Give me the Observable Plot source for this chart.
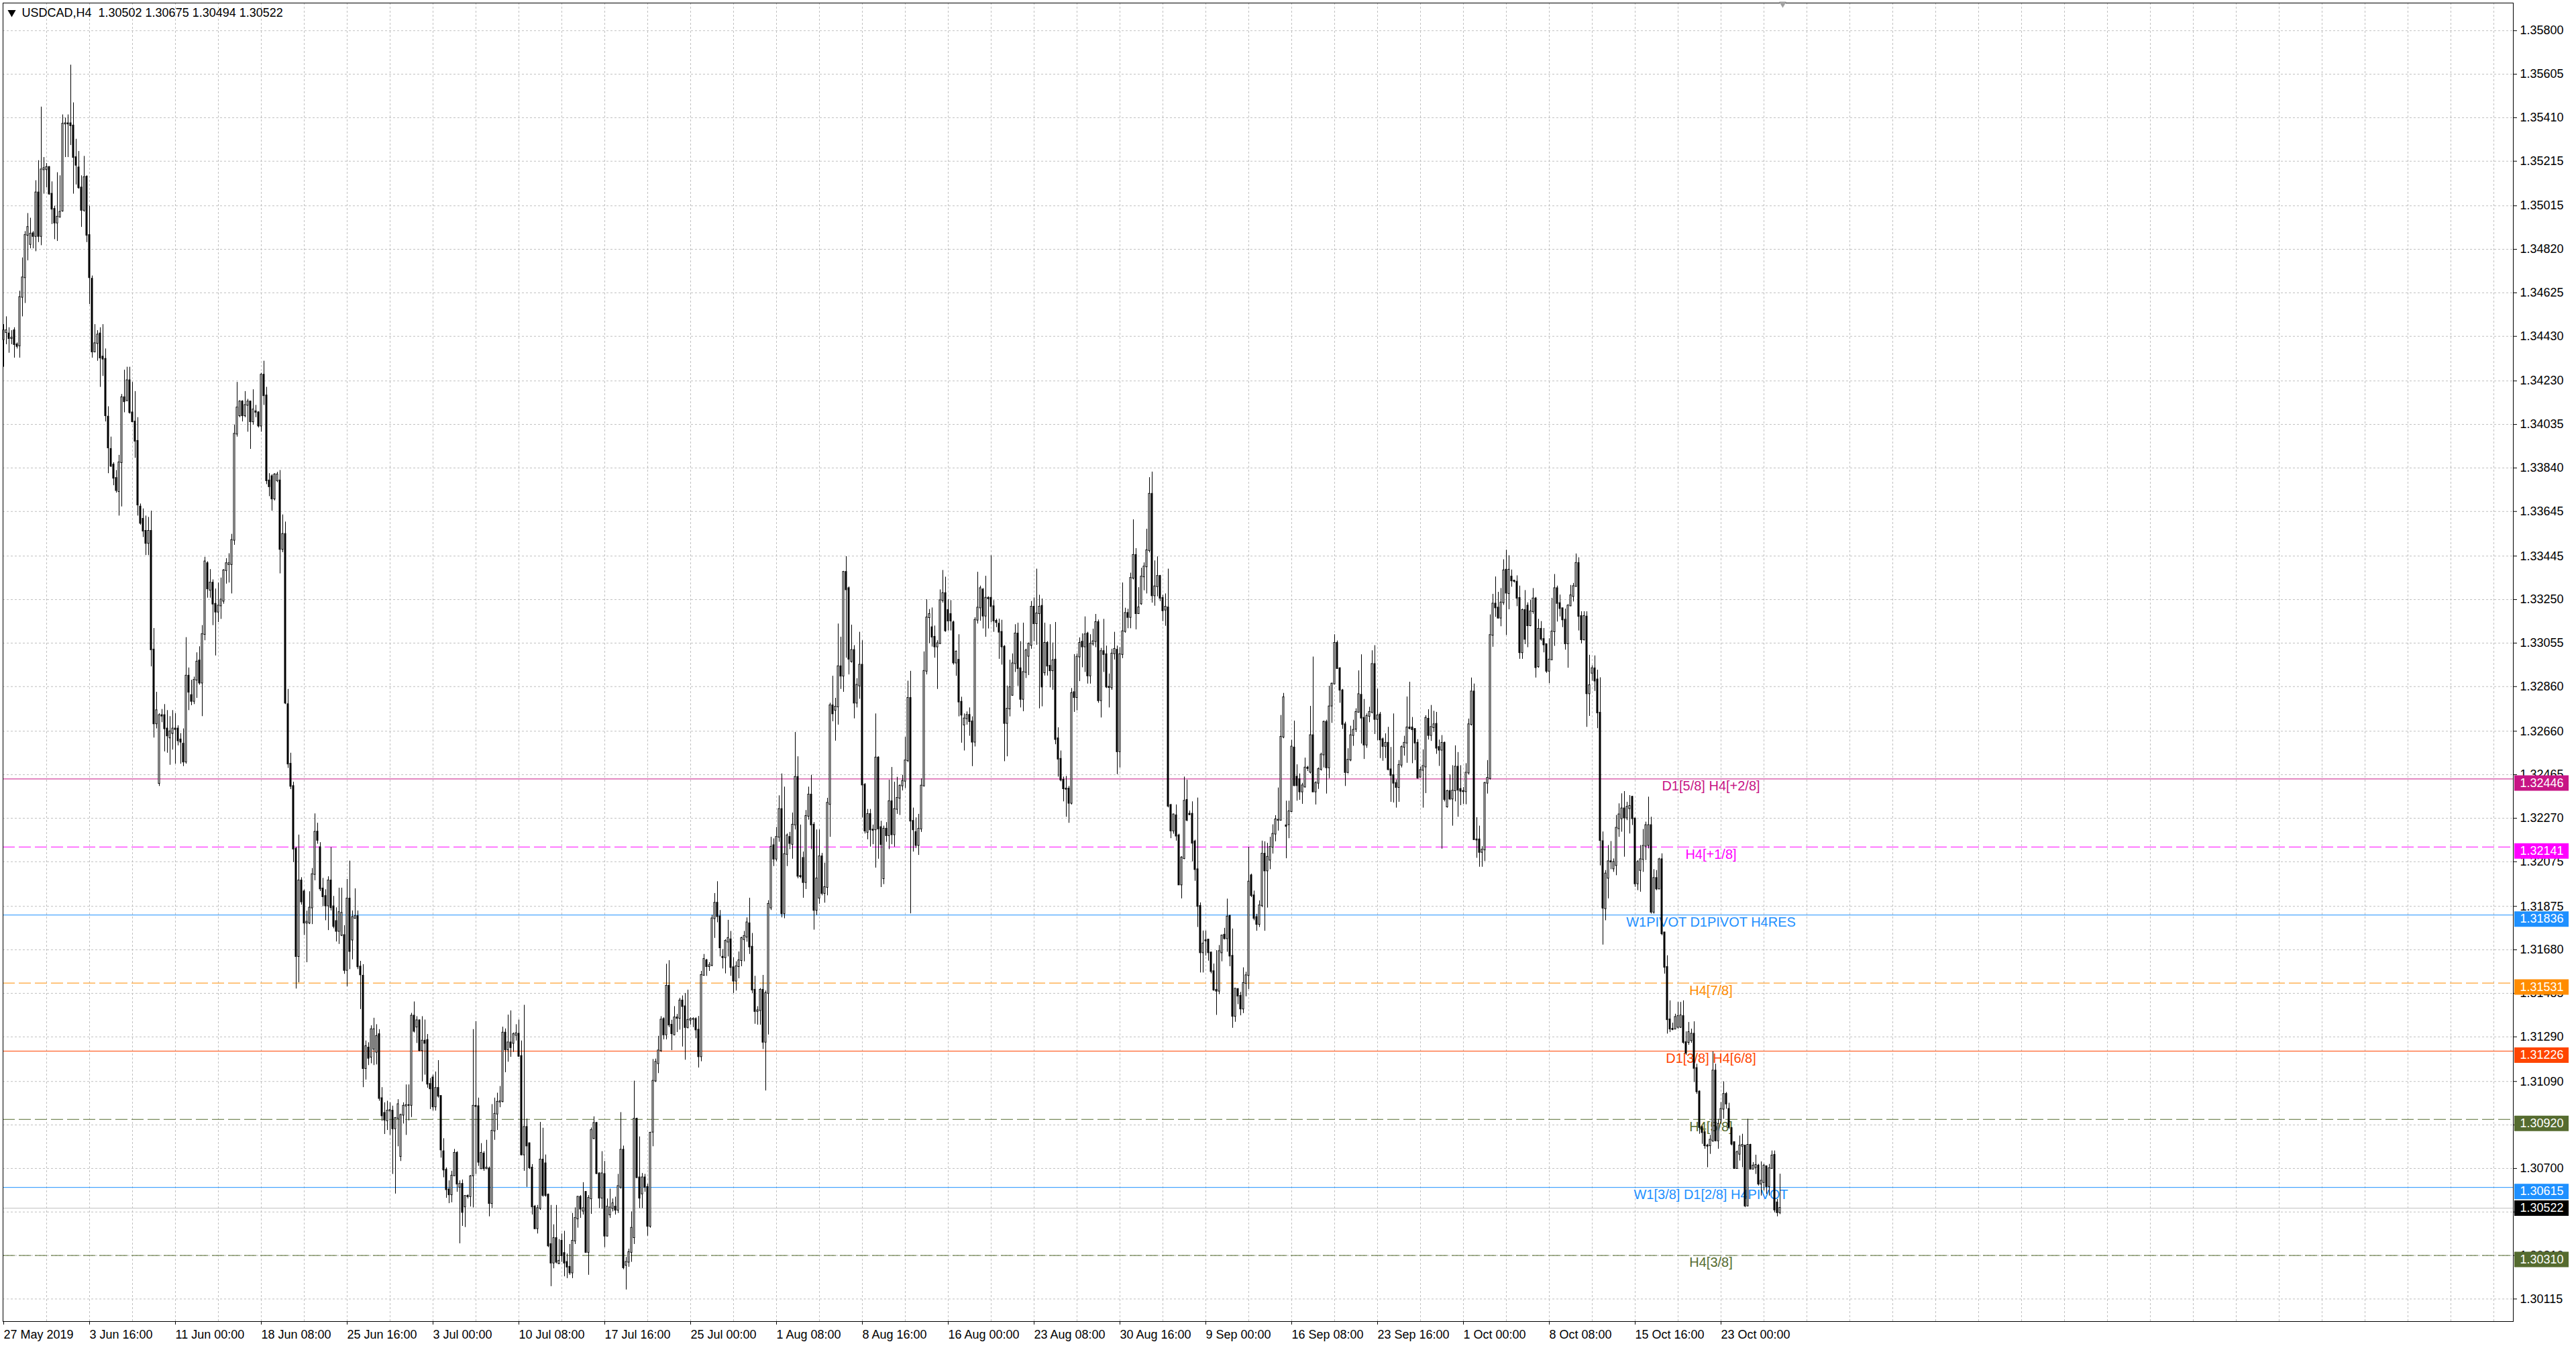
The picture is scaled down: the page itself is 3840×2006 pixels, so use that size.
<!DOCTYPE html>
<html>
<head>
<meta charset="utf-8">
<script src="https://cdn.jsdelivr.net/npm/d3@7"></script>
<script src="https://cdn.jsdelivr.net/npm/@observablehq/plot@0.6"></script>
<style>
  html, body { margin: 0; padding: 0; background: #fff; }
  #chart svg { display: block; }
</style>
</head>
<body>
<div id="chart"></div>
<script>
// USDCAD H4 candles, prices in points (price x 100000), one value per bar from 27 May 2019
const opens = [
134415,134447,134442,134420,134456,134393,134387,134605,134693,134883,
134842,134891,134878,135074,134878,135177,135177,135188,135068,135000,
134938,134965,134992,135382,135384,135384,135374,135232,135186,135096,
134995,135145,134883,134687,134360,134398,134442,134338,134328,134069,
133924,133854,133794,133734,133864,134156,134142,134232,134088,134047,
133960,133666,133611,133557,133502,133557,133025,132693,132426,132731,
132731,132671,132630,132650,132671,132671,132622,132603,132522,132908,
132821,132794,132889,132976,132876,133094,133412,133292,133325,133230,
133194,133222,133243,133380,133407,133407,133516,133992,134074,134137,
134074,134121,134137,134047,134093,134088,134028,134257,134164,133783,
133802,133701,133783,133783,133475,133543,132780,132513,132413,132132,
131650,131990,131941,131800,131800,131868,132018,132209,132139,131954,
131920,131877,131990,131874,131808,131763,131745,131745,131588,131909,
131724,131821,131830,131604,131563,131148,131241,131199,131235,131221,
131301,131014,130948,130914,130958,130958,130878,130925,130754,130939,
130980,130983,130983,131384,131334,131363,131228,131272,131275,131078,
131107,130976,131060,131024,130776,130693,130605,130582,130667,130769,
130616,130630,130528,130576,130574,130667,130980,130978,130699,130766,
130699,130699,130543,130868,130944,130998,131000,131308,131232,131264,
131261,131297,131303,131203,130761,130885,130812,130703,130528,130430,
130521,130739,130722,130582,130360,130276,130387,130273,130375,130320,
130280,130258,130232,130375,130474,130572,130509,130594,130324,130564,
130834,130903,130677,130567,130674,130397,130492,130521,130528,130513,
130616,130783,130266,130280,130324,130390,130922,130659,130586,130659,
130616,130441,130863,131092,131170,131228,131369,131299,131518,131343,
131299,131376,131373,131452,131426,131332,131365,131369,131369,131321,
131201,131566,131632,131605,131610,131820,131890,131829,131648,131645,
131715,131726,131601,131540,131605,131632,131726,131737,131798,131693,
131500,131404,131408,131500,131266,131485,131868,132148,132087,132185,
132310,131842,132108,132185,132153,132240,132454,132010,132091,131982,
132279,132375,132240,131857,131912,132098,131933,131960,132332,132775,
132754,132769,132950,132907,133373,133300,132972,133023,132786,132863,
132957,132419,132207,132288,132218,132218,132541,132229,131999,132222,
132192,132345,132196,132310,132360,132415,132436,132528,132808,132257,
132207,132148,132222,132415,132929,133169,133125,133082,133038,133053,
133246,133278,133202,133184,133147,132966,132979,132791,132688,132716,
132732,132703,132611,133158,133213,133294,133176,133257,133257,133219,
133154,133141,133104,133038,132695,132760,132821,132963,133097,132941,
132803,132924,132996,133045,133217,133142,133187,133221,132922,133055,
132952,132931,132980,132627,132535,132441,132402,132402,132337,132834,
132811,132993,133060,133038,133097,132908,133051,133062,133148,132797,
133018,133004,132858,132855,133007,133024,132568,133004,133107,133189,
133170,133346,133449,133187,133231,133352,133397,133470,133723,133267,
133308,133355,133256,133203,133214,132328,132213,132282,132192,131971,
132089,132351,132289,132289,132165,132040,131876,131667,131722,131725,
131667,131583,131500,131495,131667,131747,131730,131831,131652,131382,
131503,131473,131415,131530,131565,132013,131923,131826,131794,131878,
132110,132034,132082,132140,132199,132262,132261,132634,132237,132241,
132300,132586,132455,132444,132388,132410,132496,132476,132641,132388,
132427,132489,132554,132701,132496,132773,132872,133055,132941,132842,
132690,132475,132531,132641,132669,132745,132822,132719,132598,132727,
132745,132960,132713,132734,132623,132592,132607,132488,132462,132427,
132408,132508,132588,132607,132676,132676,132669,132607,132454,132485,
132500,132715,132641,132676,132692,132588,132575,132607,132321,132391,
132356,132393,132500,132400,132391,132389,132473,132690,132837,132174,
132174,132117,132128,132427,132448,133090,133231,133213,133167,133236,
133383,133277,133352,133334,133329,133256,133012,133202,133222,133133,
133196,133254,132949,133118,133072,133049,132929,132980,133106,133300,
133233,133210,133159,133052,133222,133264,133309,133413,133175,133070,
133173,132828,132920,132941,132891,132742,132166,131864,132001,132076,
132043,132058,132223,132268,132313,132271,132313,132365,132268,131976,
132036,132085,132145,132148,132238,131849,132001,131953,132085,131757,
131602,131367,131325,131325,131333,131333,131382,131265,131265,131273,
131303,131149,131044,130884,130861,130802,130802,130824,131138,130824,
130918,130966,131033,130966,130880,130817,130700,130764,130800,130802,
130532,130805,130697,130704,130712,130630,130637,130709,130619,130700,
130760,130547,130502
];
const highs = [
134483,134518,134469,134456,134469,134401,134633,134782,134900,134981,
134960,134900,135128,135218,135458,135232,135205,135191,135123,135014,
135164,135150,135423,135409,135423,135646,135477,135314,135259,135150,
135237,135150,135014,134701,134483,134456,134469,134483,134374,134115,
133979,133864,133829,133897,134170,134279,134292,134292,134224,134183,
134066,133679,133657,133625,133619,133647,133121,132835,132739,132758,
132780,132753,132726,132753,132739,132685,132650,132671,133080,132944,
132889,132903,133012,133039,133134,133440,133420,133385,133339,133298,
133325,133347,133385,133434,133456,133543,134033,134224,134142,134142,
134183,134148,134140,134191,134121,134093,134265,134319,134202,133815,
133810,133815,133821,133829,133630,133598,132848,132562,132432,132140,
132195,132004,131949,131854,131941,132045,132290,132248,132161,132001,
131950,132008,132139,131920,131869,131957,131957,131789,131996,132078,
131855,131954,131855,131629,131614,131272,131264,131340,131374,131345,
131323,131063,130995,131002,130995,130980,130929,131009,130944,130995,
131075,131075,131396,131447,131381,131366,131381,131366,131301,131104,
131119,131133,131184,131026,130834,130703,130645,130688,130786,130776,
130645,130649,130579,130582,130669,131323,131359,131016,130812,130776,
130827,130707,130987,131016,131038,131068,131334,131326,131388,131407,
131308,131345,131366,131272,131432,130922,130815,130718,130535,130535,
130907,130881,130761,130586,130535,130448,130535,130382,130407,130419,
130317,130360,130499,130524,130575,130579,130637,130597,130579,130882,
130932,130907,130681,130776,130732,130564,130608,130564,130572,130674,
130951,130801,130302,130339,130506,131092,130926,130842,130678,130674,
130630,130863,131189,131191,131293,131381,131376,131616,131632,131365,
131426,131391,131463,131474,131485,131500,131376,131376,131376,131382,
131584,131660,131638,131623,131835,131933,131986,131857,131682,131726,
131813,131763,131645,131627,131671,131737,131763,131824,131912,131754,
131562,131426,131507,131566,131496,131901,132185,132178,132229,132371,
132469,132410,132200,132207,132294,132655,132546,132240,132119,132305,
132410,132463,132251,132218,132218,132113,132069,132360,132786,132907,
132808,133141,133082,133377,133443,133307,133136,133044,132896,133104,
133066,132426,132310,132310,132240,132738,132546,132257,132235,132251,
132441,132498,132432,132454,132419,132463,132633,132885,132929,132316,
132272,132288,132447,133016,133250,133206,133213,133132,133066,133294,
133381,133351,133250,133246,133154,133020,133093,132813,132738,132747,
132765,132725,133169,133373,133311,133300,133355,133263,133447,133246,
133163,133163,133158,133044,132863,132979,133007,133138,133145,133062,
133145,133028,133056,133242,133258,133387,133270,133253,133145,133062,
133138,133056,133148,132676,132572,132455,132458,132413,132852,133004,
133007,133079,133097,133173,133104,133093,133118,133184,133159,133032,
133162,133042,132917,133028,133104,133042,133035,133325,133212,133207,
133369,133608,133479,133304,133391,133415,133566,133797,133822,133424,
133442,133359,133270,133276,133387,132333,132289,132330,132199,132098,
132455,132441,132303,132344,132172,132361,131891,131765,131765,131728,
131670,131617,131677,131700,131747,131777,131908,131836,131774,131507,
131507,131490,131600,131580,132140,132020,131944,131840,131900,132168,
132165,132158,132185,132241,132282,132406,132731,132830,132347,132347,
132620,132706,132510,132469,132427,132540,132503,132772,132993,132434,
132496,132562,132706,132710,132862,132876,133093,133065,132945,132848,
132701,132582,132683,132710,132761,132931,133003,132803,132738,132768,
133021,133044,132849,132745,132630,132649,132678,132588,132738,132442,
132529,132595,132638,132814,132880,132722,132672,132623,132500,132577,
132730,132757,132776,132750,132745,132621,132641,132612,132396,132465,
132506,132595,132565,132506,132408,132515,132715,132899,132872,132273,
132235,132143,132431,132529,133182,133274,133352,133283,133300,133429,
133472,133447,133383,133337,133357,133311,133208,133291,133236,133248,
133300,133260,133162,133152,133121,133052,133075,133256,133363,133311,
133271,133212,133208,133228,133314,133323,133455,133438,133196,133196,
133196,133001,132954,132998,132934,132900,132209,132036,132148,132166,
132088,132283,132335,132380,132390,132342,132372,132369,132270,132081,
132148,132220,132253,132365,132275,132040,132036,132091,132111,131759,
131654,131452,131352,131392,131445,131445,131452,131313,131355,131325,
131358,131168,131048,130891,130869,130809,130849,131223,131168,130921,
130996,131089,131041,130993,130884,130820,130779,130846,130854,130805,
130921,130809,130727,130760,130719,130730,130719,130712,130719,130779,
130779,130562,130675
];
const lows = [
134292,134393,134355,134393,134333,134374,134333,134518,134578,134769,
134823,134823,134810,134851,134837,135068,135096,135063,134932,134864,
134856,134960,134987,135232,135232,135286,135068,135109,135090,134919,
134987,134851,134573,134333,134360,134319,134202,134251,134047,133815,
133843,133761,133728,133625,133666,134088,134137,134082,134047,133884,
133625,133584,133529,133448,133448,132949,132630,132671,132413,132699,
132568,132562,132508,132576,132513,132595,132513,132502,132513,132753,
132775,132780,132808,132867,132726,133066,133257,133257,133134,132998,
133148,133162,133230,133320,133325,133276,133494,133979,134066,134047,
134066,134001,133924,134033,134066,134020,134001,134121,133766,133712,
133647,133693,133775,133366,133461,132780,132494,132399,132072,131505,
131533,131881,131745,131623,131794,131794,131990,132154,131942,131874,
131811,131767,131855,131775,131716,131705,131740,131571,131515,131592,
131636,131818,131592,131413,131063,131097,131162,131170,131162,131165,
131002,130912,130853,130871,130849,130674,130586,130798,130732,130900,
130849,130914,130929,131308,131261,131224,131089,131119,131060,130965,
130958,130958,131016,130747,130659,130567,130543,130547,130665,130594,
130363,130441,130436,130564,130528,130524,130674,130710,130696,130688,
130696,130484,130521,130827,130871,130973,130995,131130,131177,131199,
131221,131272,131199,130757,130688,130616,130696,130492,130426,130407,
130513,130572,130572,130346,130171,130251,130273,130270,130280,130215,
130207,130222,130207,130360,130433,130477,130492,130320,130222,130495,
130830,130674,130521,130518,130346,130394,130477,130506,130492,130499,
130608,130247,130156,130258,130280,130360,130655,130521,130521,130594,
130397,130433,130798,131086,131126,131221,131277,131277,131332,131229,
131295,131310,131321,131245,131186,131326,131343,131332,131282,131151,
131179,131562,131562,131584,131605,131732,131802,131649,131595,131573,
131649,131562,131485,131496,131551,131605,131627,131715,131660,131485,
131347,131343,131343,131234,131048,131299,131857,132054,132076,132163,
131824,131820,132054,132130,132087,132218,131999,131999,131912,131951,
132262,132130,131769,131835,131885,131923,131890,131923,132185,132703,
132616,132688,132848,132835,132988,132913,132966,132716,132765,132804,
132272,132200,132174,132141,132152,132047,132087,131960,131973,132163,
132130,132152,132141,132288,132283,132393,132404,132520,131842,132119,
132135,132104,132207,132410,132913,133053,133038,132988,132848,133049,
133235,133104,133110,133110,132957,132907,132725,132607,132572,132688,
132638,132502,132590,133141,133154,133119,133082,133119,133147,133104,
133125,132983,132957,132524,132546,132725,132817,132924,132862,132765,
132748,132897,132910,133028,133062,133046,132761,132770,132908,132908,
132855,132844,132600,132455,132434,132344,132275,132248,132330,132745,
132752,132883,132945,132924,132872,132872,133042,133035,132786,132720,
132924,132852,132765,132844,132980,132466,132496,132986,133100,133120,
133120,133339,133115,133184,133225,133290,133276,133460,133235,133221,
133263,133242,133152,133131,132317,132179,132199,132168,131969,131909,
132085,132255,132282,132075,131988,131781,131577,131577,131653,131630,
131573,131495,131387,131480,131627,131725,131670,131605,131329,131356,
131435,131385,131395,131470,131503,131915,131811,131764,131781,131870,
131764,131868,132040,132110,132165,132213,132258,132627,132089,132179,
132296,132413,132347,132351,132333,132406,132480,132469,132386,132330,
132400,132482,132496,132379,132448,132696,132869,132938,132786,132669,
132413,132469,132524,132593,132655,132742,132603,132534,132584,132699,
132738,132646,132618,132538,132526,132538,132483,132342,132339,132316,
132342,132496,132549,132517,132667,132515,132529,132446,132450,132316,
132381,132621,132615,132655,132557,132503,132132,132344,132316,132350,
132235,132344,132275,132327,132333,132331,132465,132684,132172,132091,
132051,132051,132077,132379,132442,133037,133171,133164,133129,133225,
133090,133205,133306,133325,133219,132983,132983,133049,133035,133129,
133185,132899,132943,133064,133012,132920,132874,132978,133041,133150,
133173,133125,133024,132943,133219,133240,133306,133110,133052,133065,
132678,132727,132885,132839,132672,132057,131702,131811,131909,132040,
132028,132013,132185,132208,132096,132260,132200,132238,131961,131946,
131939,132028,132081,132133,131841,131841,131946,131950,131744,131572,
131303,131310,131318,131322,131325,131328,131258,131208,131253,131262,
131086,131033,130854,130809,130787,130704,130764,130817,130820,130787,
130899,130921,130966,130876,130802,130697,130697,130734,130704,130525,
130529,130694,130694,130674,130622,130577,130600,130585,130577,130697,
130502,130484,130494
];
const closes = [
134456,134456,134420,134423,134393,134385,134605,134693,134883,134919,
134889,134878,135074,134878,135177,135183,135188,135068,135000,134938,
134965,134987,135382,135384,135382,135374,135232,135197,135096,134995,
135142,134883,134693,134360,134398,134437,134333,134328,134074,133930,
133848,133794,133739,133864,134156,134137,134232,134088,134047,133960,
133674,133592,133557,133502,133557,133025,132693,132753,132731,132728,
132671,132639,132658,132671,132668,132617,132611,132522,132908,132835,
132794,132889,132971,132876,133094,133420,133298,133325,133230,133194,
133222,133249,133380,133412,133412,133516,133992,134110,134137,134074,
134121,134137,134047,134101,134090,134028,134257,134164,133783,133756,
133701,133810,133810,133475,133543,132786,132513,132413,132132,131650,
131990,131895,131800,131805,131868,132018,132208,132171,131953,131918,
131877,131990,131869,131785,131763,131848,131845,131588,131909,131673,
131826,131830,131604,131568,131148,131247,131194,131323,131323,131293,
131014,130936,130917,130958,130961,130878,130925,130987,130939,130980,
130983,130983,131384,131315,131363,131228,131272,131261,131078,131057,
130976,131060,131024,130783,130693,130605,130582,130667,130769,130630,
130630,130503,130576,130574,130664,130980,130978,130728,130769,130699,
130703,130543,130868,130944,130998,131000,131308,131232,131264,131242,
131301,131305,131203,130761,130885,130801,130703,130528,130430,130521,
130739,130579,130579,130353,130276,130387,130280,130285,130309,130276,
130258,130232,130375,130477,130572,130518,130521,130324,130567,130871,
130903,130677,130567,130677,130397,130528,130524,130543,130513,130620,
130783,130255,130280,130324,130433,130922,130659,130567,130659,130616,
130441,130859,131092,131177,131228,131366,131299,131518,131343,131304,
131376,131373,131452,131426,131332,131365,131369,131369,131321,131201,
131566,131638,131605,131610,131820,131890,131829,131689,131645,131719,
131732,131601,131540,131605,131632,131732,131741,131802,131693,131500,
131404,131408,131500,131266,131485,131885,132141,132087,132185,132310,
131842,132108,132192,132157,132240,132454,132010,132008,131982,132279,
132375,132240,131857,131999,132098,131933,131960,132338,132775,132738,
132769,132950,132907,133373,133294,132983,133023,132786,132867,132957,
132419,132213,132288,132218,132216,132541,132222,132152,132222,132192,
132345,132196,132310,132360,132415,132436,132528,132808,132257,132218,
132148,132222,132415,132929,133169,133184,133082,133038,133053,133246,
133278,133110,133154,133154,132966,133016,132791,132732,132716,132732,
132703,132611,133158,133213,133300,133176,133257,133254,133219,133154,
133147,133104,133038,132695,132760,132856,132963,133097,132941,132803,
132924,133021,133051,133217,133142,133187,133217,132858,133055,132952,
132931,132977,132623,132535,132441,132402,132400,132337,132830,132811,
132993,133055,133038,133093,132908,133051,133062,133148,132797,133018,
133004,132858,132856,133007,133028,132568,133004,133107,133189,133170,
133346,133449,133187,133214,133352,133397,133470,133723,133267,133308,
133355,133256,133200,133217,132324,132213,132286,132190,131971,132093,
132347,132261,132286,132158,132040,131875,131667,131707,131720,131667,
131583,131500,131495,131673,131743,131730,131828,131652,131382,131505,
131473,131415,131530,131565,131985,131923,131821,131794,131878,132110,
132034,132096,132140,132199,132264,132261,132634,132811,132234,132300,
132590,132416,132416,132388,132416,132496,132493,132641,132388,132427,
132489,132554,132701,132496,132770,132872,133055,132941,132844,132690,
132475,132531,132641,132665,132745,132825,132719,132598,132727,132745,
132960,132713,132730,132621,132592,132607,132488,132462,132427,132408,
132508,132588,132607,132676,132672,132667,132607,132450,132485,132503,
132719,132641,132678,132690,132584,132575,132607,132354,132391,132356,
132393,132500,132396,132391,132389,132473,132690,132837,132174,132172,
132117,132128,132427,132450,133090,133231,133213,133167,133236,133380,
133279,133383,133334,133332,133256,133012,133202,133072,133133,133196,
133254,132945,133118,133072,133047,132929,132980,133106,133300,133233,
133210,133159,133052,133222,133268,133309,133413,133175,133070,133175,
132828,132865,132941,132885,132742,132170,131867,132021,132076,132074,
132073,132226,132286,132313,132271,132320,132324,132268,131976,132073,
132085,132145,132238,132238,131849,132001,131953,132085,131752,131602,
131367,131325,131323,131378,131382,131385,131265,131217,131310,131303,
131149,131044,130884,130861,130802,130800,130828,131138,130824,130899,
130966,131033,130989,130884,130809,130700,130772,130802,130805,130532,
130805,130697,130712,130715,130630,130644,130712,130619,130700,130757,
130514,130502,130522
];

// time labels every 32 bars
const timeLabels = ["27 May 2019", "3 Jun 16:00", "11 Jun 00:00", "18 Jun 08:00", "25 Jun 16:00",
  "3 Jul 00:00", "10 Jul 08:00", "17 Jul 16:00", "25 Jul 00:00", "1 Aug 08:00", "8 Aug 16:00",
  "16 Aug 00:00", "23 Aug 08:00", "30 Aug 16:00", "9 Sep 00:00", "16 Sep 08:00", "23 Sep 16:00",
  "1 Oct 00:00", "8 Oct 08:00", "15 Oct 16:00", "23 Oct 00:00"];

// price scale labels
const yTicks = [1.35800, 1.35605, 1.35410, 1.35215, 1.35015, 1.34820, 1.34625, 1.34430, 1.34230, 1.34035,
  1.33840, 1.33645, 1.33445, 1.33250, 1.33055, 1.32860, 1.32660, 1.32465, 1.32270, 1.32075,
  1.31875, 1.31680, 1.31485, 1.31290, 1.31090, 1.30895, 1.30700, 1.30505, 1.30310, 1.30115];

// murrey / pivot levels
const levelPrices = [1.32446, 1.32141, 1.31836, 1.31531, 1.31226, 1.30920, 1.30615, 1.30310];
const levelNames = ["D1[5/8] H4[+2/8]", "H4[+1/8]", "W1PIVOT D1PIVOT H4RES", "H4[7/8]",
  "D1[3/8] H4[6/8]", "H4[5/8]", "W1[3/8] D1[2/8] H4PIVOT", "H4[3/8]"];
const levelColors = ["#C71585", "#FF00FF", "#1E90FF", "#FF8C00", "#FF4500", "#556B2F", "#1E90FF", "#556B2F"];
const levelDashed = [false, true, false, true, false, true, false, true];

const symbol = "USDCAD,H4";

// ---------------------------------------------------------------
const n = Math.min(opens.length, highs.length, lows.length, closes.length);
const bars = [];
for (let i = 0; i < n; i++) {
  const o = opens[i], c = closes[i];
  bars.push({
    i,
    open: o / 1e5,
    close: c / 1e5,
    high: Math.max(highs[i], o, c) / 1e5,
    low: Math.min(lows[i], o, c) / 1e5
  });
}
const last = bars[n - 1];

const levels = levelPrices.map((p, k) => ({price: p, name: levelNames[k], color: levelColors[k], dashed: levelDashed[k]}));
const bid = {price: last.close, color: "#000"};

const labelBars = timeLabels.map((_, k) => k * 32);
const gridBars = d3.range(16, 936, 16);

const xDomain = [-0.25, 935.25];   // 4px per bar
const labelBar = 636.25;           // centre of the level captions
const boxFrom = xDomain[1] + 0.5, boxTo = xDomain[1] + 20.75;

const fmt = v => v.toFixed(5);
const title = `${symbol}\u00a0\u00a0${fmt(last.open)} ${fmt(last.high)} ${fmt(last.low)} ${fmt(last.close)}`;

const chart = Plot.plot({
  width: 3840,
  height: 2006,
  marginTop: 4,
  marginLeft: 4,
  marginRight: 94,
  marginBottom: 37,
  x: {domain: xDomain},
  y: {domain: [1.30014, 1.35924]},
  color: {type: "identity"},
  style: {
    fontFamily: "'Liberation Sans', Arial, sans-serif",
    fontSize: "18px",
    background: "#fff",
    color: "#000"
  },
  marks: [
    Plot.gridX(gridBars, {stroke: "#c0c0c0", strokeOpacity: 1, strokeDasharray: "3,3"}),
    Plot.gridY(yTicks, {stroke: "#c0c0c0", strokeOpacity: 1, strokeDasharray: "3,3"}),

    Plot.ruleY(levels.filter(d => !d.dashed), {y: "price", stroke: "color", strokeWidth: 1}),
    Plot.ruleY(levels.filter(d => d.dashed), {y: "price", stroke: "color", strokeWidth: 1, strokeDasharray: "18,6"}),
    Plot.ruleY([bid], {y: "price", stroke: "#c0c0c0", strokeWidth: 1}),

    Plot.text(levels, {
      x: d => labelBar, y: "price", text: "name", fill: "color",
      dy: 11, fontSize: 20, textAnchor: "middle"
    }),

    // candles
    Plot.ruleX(bars, {x: "i", y1: "low", y2: "high", stroke: "#000", strokeWidth: 1}),
    Plot.rect(bars, {
      x1: d => d.i - 0.25, x2: d => d.i + 0.25,
      y1: "open", y2: "close",
      fill: d => d.close > d.open ? "#fff" : "#000",
      stroke: "#000", strokeWidth: 1,
      insetTop: -0.5, insetBottom: -0.5
    }),

    Plot.frame({stroke: "#000", strokeWidth: 1}),

    Plot.axisX(labelBars, {
      anchor: "bottom", tickSize: 5, tickPadding: 8, textAnchor: "start",
      tickFormat: d => timeLabels[labelBars.indexOf(d)], fontSize: 18, label: null
    }),
    Plot.axisY(yTicks, {
      anchor: "right", tickSize: 5, tickPadding: 5,
      tickFormat: fmt, fontSize: 18, label: null
    }),

    // price boxes on the scale: level boxes sit a little below their line, the bid box is centred
    Plot.ruleY(levels, {y: "price", x1: d => boxFrom, x2: d => boxTo, dy: 6, stroke: "color", strokeWidth: 23}),
    Plot.text(levels, {
      x: d => xDomain[1], y: "price", dx: 10, dy: 6, text: d => fmt(d.price),
      fill: "#fff", textAnchor: "start", fontSize: 18
    }),
    Plot.ruleY([bid], {y: "price", x1: d => boxFrom, x2: d => boxTo, stroke: "color", strokeWidth: 23}),
    Plot.text([bid], {
      x: d => xDomain[1], y: "price", dx: 10, text: d => fmt(d.price),
      fill: "#fff", textAnchor: "start", fontSize: 18
    }),

    // header
    Plot.dot([0], {frameAnchor: "top-left", dx: 13, dy: 14, symbol: "triangle", rotate: 180, r: 4.5, fill: "#000", stroke: null}),
    Plot.text([title], {
      text: d => d, frameAnchor: "top-left", dx: 28, dy: 8,
      textAnchor: "start", lineAnchor: "top", fontSize: 18
    }),
    // chart shift marker
    Plot.dot([n], {x: d => d, frameAnchor: "top", dy: 1, symbol: "triangle", rotate: 180, r: 4, fill: "#a0a0a0", stroke: null})
  ]
});

document.getElementById("chart").append(chart);
</script>
</body>
</html>
